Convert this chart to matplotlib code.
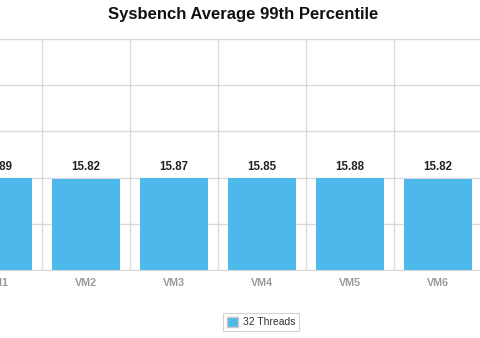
import matplotlib
matplotlib.use("Agg")
import matplotlib.pyplot as plt
from matplotlib.patches import Patch

plt.rcParams['font.family'] = ['Liberation Sans', 'DejaVu Sans']

categories = ["VM1", "VM2", "VM3", "VM4", "VM5", "VM6"]
values = [15.89, 15.82, 15.87, 15.85, 15.88, 15.82]
series_name = "32 Threads"
title = "Sysbench Average 99th Percentile"
y_ticks = [0, 8, 16, 24, 32, 40]

W, H = 480, 338
fig = plt.figure(figsize=(W / 100, H / 100), dpi=100)

# plot area spans slightly past the figure edges
left_px, right_px, top_px, bottom_px = -46, 482, 39, 270
ax = fig.add_axes([left_px / W, (H - bottom_px) / H,
                   (right_px - left_px) / W, (bottom_px - top_px) / H])

bar_color = "#4db9ea"
grid_color = "#d9d9d9"

x = list(range(len(categories)))
ax.bar(x, values, width=0.77, color=bar_color, zorder=2)

for xi, v in zip(x, values):
    ax.annotate(f"{v:.2f}", (xi, v), xytext=(0, 4), textcoords="offset points",
                ha="center", va="bottom", fontsize=8.3, fontweight="bold",
                color="#222222", zorder=3, annotation_clip=False)

ax.set_xlim(-0.5, len(categories) - 0.5)
ax.set_ylim(y_ticks[0], y_ticks[-1])
ax.set_yticks(y_ticks)
ax.set_xticks(x)
ax.set_xticklabels(categories, fontsize=7.7, fontweight="bold", color="#9a9a9a")
ax.set_xticks([i + 0.5 for i in x[:-1]], minor=True)
ax.tick_params(axis="x", which="both", length=0, pad=6)
ax.tick_params(axis="y", length=0, labelleft=False)

ax.grid(axis="y", color=grid_color, linewidth=1, zorder=0)
ax.grid(axis="x", which="minor", color=grid_color, linewidth=1, zorder=0)
ax.grid(axis="x", which="major", visible=False)
for side in ["top", "right", "left"]:
    ax.spines[side].set_visible(False)
ax.spines["bottom"].set_color(grid_color)
ax.set_axisbelow(True)

fig.text(243 / W, 1 - 14 / H, title, ha="center", va="center",
         fontsize=12, fontweight="bold", color="#111111")

leg = fig.legend(handles=[Patch(facecolor=bar_color, edgecolor="#c8c8c8",
                                label=series_name)],
                 loc="center", bbox_to_anchor=(261 / W, 1 - 322 / H),
                 fontsize=7.5, frameon=True, fancybox=False,
                 handlelength=1.1, handleheight=1.1, handletextpad=0.4,
                 borderpad=0.35, labelcolor="#333333")
leg.get_frame().set_edgecolor("#c8c8c8")
leg.get_frame().set_linewidth(0.8)

fig.savefig("out.png", dpi=100)
